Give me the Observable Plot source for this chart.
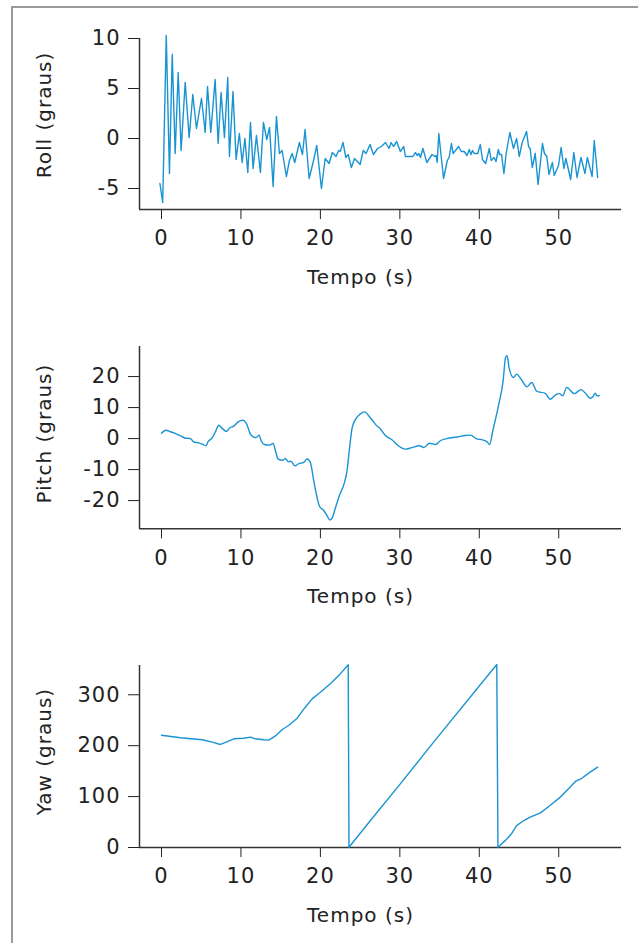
<!DOCTYPE html>
<html><head><meta charset="utf-8">
<script src="https://cdn.jsdelivr.net/npm/d3@7"></script>
<script src="https://cdn.jsdelivr.net/npm/@observablehq/plot@0.6"></script>
<style>
html,body{margin:0;padding:0;background:#fff;}
#wrap{position:relative;width:638px;height:943px;overflow:hidden;}
.frame-top{position:absolute;left:11px;top:6px;width:627px;height:2px;background:#9a9a9a;}
.frame-left{position:absolute;left:11px;top:6px;width:2px;height:937px;background:#9a9a9a;}
.panel{position:absolute;left:0;}
g[aria-label="text"] text{letter-spacing:1px;}
g[aria-label*="axis"] text{letter-spacing:1px;}
</style></head><body>
<div id="wrap"><div class="frame-top"></div><div class="frame-left"></div></div>
<script>
const xTicks = [0, 10, 20, 30, 40, 50];
const rollTicks = [-5, 0, 5, 10];
const pitchTicks = [-20, -10, 0, 10, 20];
const yawTicks = [0, 100, 200, 300];

const rollT = [-0.2,0.15,0.6,1.0,1.35,1.72,2.1,2.47,2.98,3.48,3.94,4.4,5.03,5.5,5.79,6.2,6.75,7.13,7.5,7.92,8.34,8.55,9.0,9.39,9.8,10.15,10.5,10.86,11.2,11.53,11.95,12.45,12.83,13.25,13.6,14.05,14.47,14.84,15.18,15.72,16.1,16.44,16.77,17.36,17.74,18.07,18.58,19.08,19.54,20.13,20.6,21.1,21.5,21.97,22.3,22.5,22.85,23.2,23.5,23.9,24.3,25.0,25.4,25.75,26.25,26.67,27.2,27.67,28.2,28.64,28.9,29.2,29.6,30.06,30.5,30.7,31.65,31.95,32.2,32.4,32.6,32.9,33.4,34.05,34.4,34.55,34.7,34.9,35.5,35.97,36.2,36.5,36.7,37.4,37.74,38.1,38.45,38.74,38.95,39.15,39.35,39.8,40.13,40.4,40.8,41.26,41.5,41.85,42.1,42.4,42.55,42.8,43.1,43.4,43.85,44.3,44.7,45.03,45.4,45.95,46.2,46.4,46.67,47.04,47.4,47.95,48.2,48.5,48.77,49.2,49.43,49.97,50.3,50.65,50.9,51.5,51.9,52.3,52.8,53.3,53.6,54.2,54.47,54.9];
const rollV = [-4.5,-6.4,10.3,-3.5,8.4,-1.5,6.6,-1.2,5.6,0.1,4.4,1.0,4.0,0.6,5.2,0.6,5.9,-0.5,4.6,0.1,6.1,-1.8,4.7,-2.1,0.5,-2.4,0.0,-3.4,1.6,-3.0,0.3,-3.4,1.6,-0.1,1.1,-4.8,2.2,-1.5,-1.2,-3.8,-2.2,-1.5,-2.4,-0.4,-1.6,0.9,-4.0,-2.4,-0.7,-5.0,-2.0,-2.5,-1.4,-1.8,-1.2,-1.3,-0.4,-1.9,-1.6,-2.9,-2.0,-2.6,-1.2,-1.5,-0.6,-1.6,-1.0,-0.8,-0.4,-1.0,-0.4,-0.8,-0.3,-1.3,-0.8,-1.8,-1.8,-1.4,-1.7,-1.5,-1.9,-1.0,-2.4,-1.6,-1.8,-1.7,-2.4,0.5,-4.0,-2.2,-1.9,-0.5,-1.5,-0.8,-1.3,-1.3,-1.7,-1.1,-1.6,-1.2,-1.5,-1.5,-0.6,-2.1,-2.5,-1.0,-2.2,-1.9,-2.3,-1.1,-1.6,-1.6,-3.5,-1.4,0.6,-1.0,0.0,-1.8,-0.4,0.7,-0.8,-1.0,-2.9,-1.5,-4.6,-0.5,-1.5,-1.8,-3.6,-2.4,-3.7,-2.7,-0.9,-3.0,-2.0,-4.1,-1.4,-3.9,-1.9,-3.5,-1.9,-3.8,-0.2,-3.9];

const pitchT = [0,0.55,1.13,1.7,2.4,2.9,3.65,4.07,4.7,5.24,5.58,5.87,6.4,6.84,7.2,7.63,8.2,8.6,9.1,9.65,10.27,10.65,11.28,11.9,12.3,12.54,12.96,13.55,14.05,14.4,14.68,15.2,15.6,16.0,16.3,16.8,17.27,17.9,18.33,18.74,19.16,19.58,19.9,20.4,20.85,21.2,21.5,21.9,22.4,22.97,23.35,23.7,24.0,24.5,25.0,25.6,26.1,26.7,27.1,27.45,28.2,29.0,29.85,30.7,31.5,32.5,33.0,33.75,34.5,35.1,35.9,37.2,38.2,38.9,39.6,40.5,41.0,41.3,41.7,42.4,43.0,43.3,43.5,43.75,44.3,44.7,45.25,46.0,46.6,47.25,48.3,48.9,49.6,50.1,50.5,51.0,51.95,52.8,53.3,53.96,54.3,54.6,54.8,55.1];
const pitchV = [1.7,2.7,2.2,1.7,0.9,0.2,0.0,-1.1,-1.4,-1.9,-2.3,-1.0,0.3,2.5,4.3,3.3,2.3,3.5,4.0,5.4,5.9,5.0,1.1,0.3,1.1,-0.7,-1.9,-2.1,-1.6,-4.5,-6.6,-7.0,-6.5,-7.5,-7.3,-8.8,-8.1,-7.7,-6.6,-7.7,-13.6,-19.0,-21.9,-23.1,-24.9,-26.3,-25.5,-22.3,-18.3,-14.7,-10.4,-2.4,3.5,6.5,7.9,8.6,7.3,5.4,4.1,3.4,0.9,-0.4,-2.4,-3.4,-2.9,-2.3,-2.9,-1.5,-1.9,-0.7,0.0,0.5,1.0,1.1,0.0,-0.5,-1.1,-1.9,2.5,10.5,18.6,26.1,26.7,22.9,19.7,20.8,19.2,16.7,18.1,15.2,14.6,12.7,14.1,14.5,13.8,16.5,14.5,15.8,14.8,13.0,13.5,14.6,13.8,13.8];

const yawT = [0,2.4,5.1,6.4,7.4,8.3,9.1,10.35,11.2,11.8,12.9,13.5,14.3,15.2,16.0,17.07,18.1,18.96,20.0,21.25,22.5,23.5,23.6,26.3,30.06,34.25,42.2,42.35,43.3,44.1,44.7,45.6,46.4,47.7,48.9,50.2,51.2,52.1,52.9,53.96,54.9];
const yawV = [220.6,215.5,211.6,207,202.4,208,213.5,214.7,216.7,213.5,211.6,211,218.7,231.8,239.7,254,275.6,292,305,321.6,341,359,0.6,53,125,207,359.5,0.5,14,28,43,53,59.5,68,82.5,99,115,129.7,136,148,157.8];

const xDomain = [-2.77, 57.9];
const FONT = "'DejaVu Sans', sans-serif";
const BLUE = "#1a93d3";
const AXIS = "#333";

const rows = (T, V) => T.map((t, i) => ({t, v: V[i]}));

function panel({data, yDomain, yTicks, yLabel, top, height, marginTop, marginBottom, labelDy, curve}) {
  const chart = Plot.plot({
    width: 638, height,
    marginLeft: 139, marginRight: 17, marginTop, marginBottom,
    style: {fontFamily: FONT, fontSize: "21px", color: "#222", background: "transparent", overflow: "visible"},
    x: {domain: xDomain, ticks: xTicks, tickSize: 10, tickPadding: 11, tickFormat: d => String(d), label: null},
    y: {domain: yDomain, ticks: yTicks, tickSize: 11, tickPadding: 8, tickFormat: d => String(d), label: null},
    marks: [
      Plot.ruleX([xDomain[0]], {stroke: AXIS, strokeWidth: 1.5}),
      Plot.ruleY([yDomain[0]], {stroke: AXIS, strokeWidth: 1.5}),
      Plot.line(data, {x: "t", y: "v", stroke: BLUE, strokeWidth: 1.4, curve}),
      Plot.text([yLabel], {frameAnchor: "left", text: d => d, rotate: -90, dx: -95, dy: labelDy, textAnchor: "middle", lineAnchor: "middle", fontSize: 20, fill: "#222"}),
      Plot.text(["Tempo (s)"], {frameAnchor: "bottom", text: d => d, dx: -20, dy: 68, lineAnchor: "middle", fontSize: 20, fill: "#222"})
    ]
  });
  const div = document.createElement("div");
  div.className = "panel";
  div.style.top = top + "px";
  div.appendChild(chart);
  document.getElementById("wrap").appendChild(div);
}

panel({data: rows(rollT, rollV), yDomain: [-7.1, 10], yTicks: rollTicks, yLabel: "Roll (graus)", top: 0, height: 310, marginTop: 38, marginBottom: 101, labelDy: -9, curve: "linear"});
panel({data: rows(pitchT, pitchV), yDomain: [-29.1, 29.7], yTicks: pitchTicks, yLabel: "Pitch (graus)", top: 310, height: 315, marginTop: 36, marginBottom: 96.7, labelDy: -4, curve: "monotone-x"});
panel({data: rows(yawT, yawV), yDomain: [0, 357.5], yTicks: yawTicks, yLabel: "Yaw (graus)", top: 625, height: 318, marginTop: 40, marginBottom: 96, labelDy: -5, curve: "linear"});
</script>
</body></html>
